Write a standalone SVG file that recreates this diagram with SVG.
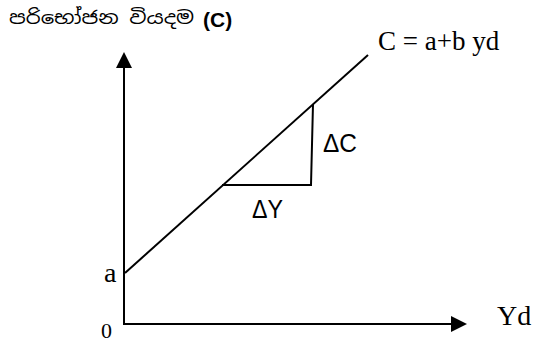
<svg xmlns="http://www.w3.org/2000/svg" width="535" height="343" viewBox="0 0 535 343">
<style>
.ln{stroke:#000;stroke-width:2;fill:none}
.serif{font-family:"Liberation Serif","Times New Roman",serif;fill:#000}
.sans{font-family:"Liberation Sans",Arial,sans-serif;fill:#000}
</style>
<rect width="535" height="343" fill="#fff"/>
<g id="connectors">
<line class="ln" x1="124" y1="325" x2="124" y2="66"/>
<polygon points="124,52 116,68 132,68" fill="#000"/>
<line class="ln" x1="123" y1="324" x2="452" y2="324"/>
<polygon points="467,324 451,316 451,332" fill="#000"/>
<line class="ln" x1="125" y1="273" x2="368" y2="55"/>
<polyline class="ln" points="222,185 311,185 313,104"/>
</g>
<g id="title">
<text x="9" y="24" font-size="18" textLength="185" lengthAdjust="spacingAndGlyphs" font-family="'Noto Sans Sinhala','Iskoola Pota','Noto Sans',sans-serif">පරිභෝජන වියදම</text>
<text x="203" y="27" font-size="21" font-weight="bold" class="sans">(C)</text>
</g>
<g id="eq"><text x="378" y="50" font-size="27" class="serif">C = a+b yd</text></g>
<g id="dc"><text x="323" y="152" font-size="25" textLength="34" lengthAdjust="spacingAndGlyphs" class="sans">ΔC</text></g>
<g id="dy"><text x="252" y="218" font-size="25" textLength="31" lengthAdjust="spacingAndGlyphs" class="sans">ΔY</text></g>
<g id="a"><text x="104" y="282" font-size="28" class="serif">a</text></g>
<g id="zero"><text x="101" y="338" font-size="22" class="serif">0</text></g>
<g id="yd"><text x="497" y="325" font-size="28" class="serif">Yd</text></g>
</svg>
